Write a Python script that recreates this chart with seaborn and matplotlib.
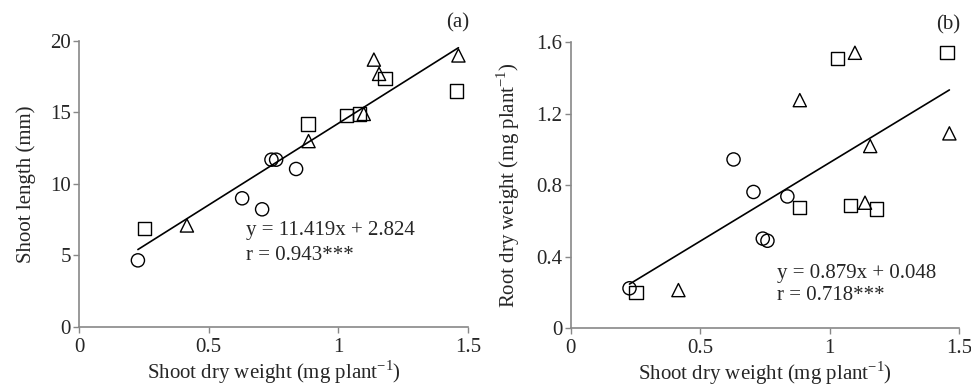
import matplotlib
matplotlib.use("Agg")
import matplotlib.pyplot as plt
import numpy as np
import pandas as pd
import seaborn as sns

# shoot dry weight (mg plant-1) per group
circle_x = [0.227, 0.629, 0.706, 0.742, 0.760, 0.837]
square_x = [0.252, 0.883, 1.031, 1.082, 1.180, 1.454]
triangle_x = [0.416, 0.885, 1.098, 1.137, 1.157, 1.463]

# (a) shoot length (mm)
circle_len = [4.66, 9.0, 8.23, 11.7, 11.7, 11.05]
square_len = [6.88, 14.2, 14.8, 14.9, 17.35, 16.5]
triangle_len = [7.1, 13.0, 14.9, 18.7, 17.7, 18.99]

# (b) root dry weight (mg plant-1)
circle_root = [0.224, 0.945, 0.763, 0.502, 0.490, 0.738]
square_root = [0.200, 0.677, 1.512, 0.688, 0.668, 1.542]
triangle_root = [0.214, 1.277, 1.542, 0.703, 1.020, 1.091]

fit_a = (11.419, 2.824)
fit_b = (0.879, 0.048)
eq_a = ["y = 11.419x + 2.824", "r = 0.943***"]
eq_b = ["y = 0.879x + 0.048", "r = 0.718***"]

sns.set_style("white")
plt.rcParams["font.family"] = ["Liberation Serif", "DejaVu Serif"]
plt.rcParams["mathtext.fontset"] = "custom"
plt.rcParams["mathtext.rm"] = "Liberation Serif"

df = pd.DataFrame({
    "sdw": circle_x + square_x + triangle_x,
    "length": circle_len + square_len + triangle_len,
    "root": circle_root + square_root + triangle_root,
    "grp": ["c"] * 6 + ["s"] * 6 + ["t"] * 6,
})
markers = {"c": "o", "s": "s", "t": "^"}

fig = plt.figure(figsize=(9.71, 3.89), dpi=100)
ax1 = fig.add_axes([0.0814, 0.1594, 0.4006, 0.7352])
ax2 = fig.add_axes([0.5878, 0.156, 0.3998, 0.735])

xlab = "Shoot dry weight (mg plant$^{\\mathregular{-1}}$)"
FS = 15

def draw(ax, ycol, fit, eq, eqpos, ylim, yticks, yticklabels, ylabel, tag, ypad):
    sns.scatterplot(data=df, x="sdw", y=ycol, style="grp", markers=markers,
                    s=90, facecolor="none", edgecolor="black", linewidth=1.0,
                    legend=False, ax=ax, zorder=3)
    xs = np.array([df["sdw"].min(), df["sdw"].max()])
    sns.lineplot(x=xs, y=fit[0] * xs + fit[1], color="black", lw=1.2, ax=ax)
    ax.set_xlim(0, 1.5)
    ax.set_ylim(*ylim)
    ax.set_xticks([0, 0.5, 1, 1.5])
    ax.set_xticklabels(["0", "0.5", "1", "1.5"])
    ax.set_yticks(yticks)
    ax.set_yticklabels(yticklabels)
    ax.tick_params(labelsize=FS, length=4, width=1, color="#888888",
                   direction="out", pad=2, bottom=True, left=True)
    ax.tick_params(axis="x", pad=4)
    for s in ["top", "right"]:
        ax.spines[s].set_visible(False)
    for s in ["left", "bottom"]:
        ax.spines[s].set_color("#888888")
        ax.spines[s].set_linewidth(1.2)
    ax.set_xlabel(xlab, fontsize=FS, labelpad=1)
    ax.set_ylabel(ylabel, fontsize=FS, labelpad=ypad)
    ax.text(eqpos[0], eqpos[1], eq[0], fontsize=FS, va="center", ha="left")
    ax.text(eqpos[0], eqpos[2], eq[1], fontsize=FS, va="center", ha="left")
    ax.text(1.003, 1.063, tag, transform=ax.transAxes, fontsize=FS,
            ha="right", va="center")

draw(ax1, "length", fit_a, eq_a, (0.643, 6.76, 5.0), (0, 20),
     [0, 5, 10, 15, 20], ["0", "5", "10", "15", "20"], "Shoot length (mm)", "(a)", 10)
draw(ax2, "root", fit_b, eq_b, (0.796, 0.308, 0.181), (0, 1.6),
     [0, 0.4, 0.8, 1.2, 1.6], ["0", "0.4", "0.8", "1.2", "1.6"],
     "Root dry weight (mg plant$^{\\mathregular{-1}}$)", "(b)", 10)

fig.savefig("out.png", dpi=100)
